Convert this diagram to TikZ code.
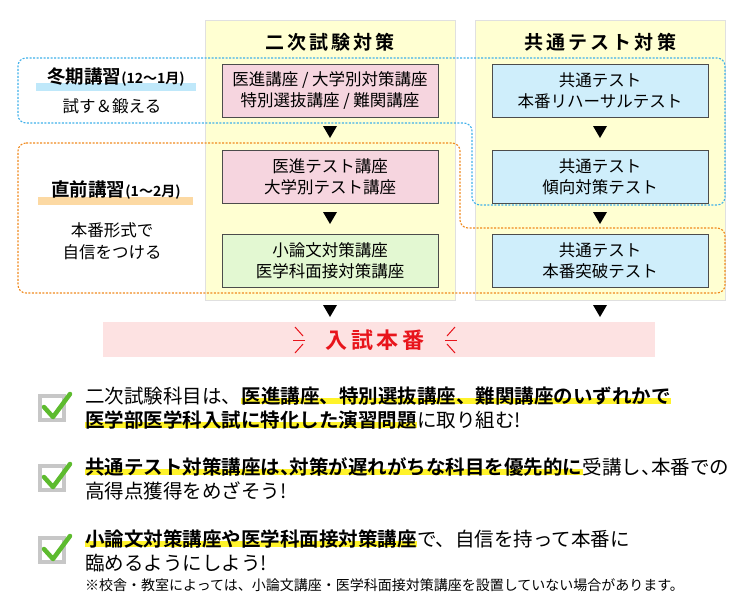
\documentclass[tikz,border=0pt]{standalone}
\usepackage{fontspec}
\setmainfont{Noto Sans CJK JP}[BoldFont={Noto Sans CJK JP Bold}]
\usetikzlibrary{positioning,backgrounds,calc}
\definecolor{colbg}{HTML}{FFFFD2}
\definecolor{pinkbox}{HTML}{F6D5DF}
\definecolor{greenbox}{HTML}{E3F8D2}
\definecolor{bluebox}{HTML}{CFEEFB}
\definecolor{bluedash}{HTML}{3FB0EA}
\definecolor{orangedash}{HTML}{F08A1E}
\definecolor{hlyellow}{HTML}{FFF32A}
\definecolor{hlblue}{HTML}{BFE8FA}
\definecolor{hlorange}{HTML}{FCD9A3}
\definecolor{redbar}{HTML}{FDE2E2}
\definecolor{redtxt}{HTML}{E8141B}
\definecolor{checkgreen}{HTML}{5DBB2E}
\tikzset{
  column/.style={fill=colbg, draw=black!12},
  course/.style={draw=black!70, thick, minimum width=216pt, minimum height=53pt, align=center, font=\fontsize{16.5}{21}\selectfont, inner sep=1pt},
  heading/.style={font=\bfseries\fontsize{19}{22}\selectfont},
  region/.style={line width=1.1pt, dash pattern=on 2pt off 1.5pt, rounded corners=8pt},
  body/.style={anchor=base west, inner sep=0pt, font=\fontsize{19.5}{23}\selectfont},
  hl/.style={body, font=\bfseries\fontsize{19.5}{23}\selectfont},
}
\newcommand{\downtri}[1]{\fill ($(#1)+(-7,-5)$) -- ($(#1)+(7,-5)$) -- ($(#1)+(0,7)$) -- cycle;}
\newcommand{\markhl}[1]{\begin{scope}[on background layer]\fill[hlyellow] ($(#1.base west)+(0,-5)$) rectangle ($(#1.base east)+(0,1)$);\end{scope}}
\newcommand{\checkbox}[1]{%
  \draw[black!22, line width=3.5pt] ($(#1)+(-38,-9)$) rectangle ($(#1)+(-14,15)$);
  \draw[checkgreen, line width=4.5pt, line cap=round, line join=round] ($(#1)+(-34,2)$) -- ($(#1)+(-25,12)$) -- ($(#1)+(-8,-11)$);}
\newcommand{\hcomma}{、\kern-0.5em}
\begin{document}
\begin{tikzpicture}[x=1pt, y=-1pt]
\useasboundingbox (0,0) rectangle (750,600);
% columns
\fill[column] (205,20) rectangle (455,300);
\fill[column] (475,20) rectangle (725,300);
\node[heading] (h1) at (330,42) {二\,次\,試\,験\,対\,策};
\node[heading] (h2) at (600,42) {共\,通\,テ\,ス\,ト\,対\,策};
% course boxes
\node[course, fill=pinkbox] (p1) at (330,90.5) {医進講座 / 大学別対策講座\\特別選抜講座 / 難関講座};
\node[course, fill=pinkbox] (p2) at (330,176.5) {医進テスト講座\\大学別テスト講座};
\node[course, fill=greenbox] (p3) at (330,260.5) {小論文対策講座\\医学科面接対策講座};
\node[course, fill=bluebox] (b1) at (600,90.5) {共通テスト\\本番リハーサルテスト};
\node[course, fill=bluebox] (b2) at (600,176.5) {共通テスト\\傾向対策テスト};
\node[course, fill=bluebox] (b3) at (600,260.5) {共通テスト\\本番突破テスト};
% regions
\draw[region, bluedash] (18,58) -- (725,58) -- (725,205) -- (472,205) -- (472,123) -- (18,123) -- cycle;
\draw[region, orangedash] (18,143) -- (460,143) -- (460,228) -- (725,228) -- (725,293) -- (18,293) -- cycle;
% arrows
\foreach \x in {330,600}{
  \foreach \y in {131,217,310}{
    \coordinate (t) at (\x,\y);
    \downtri{t}
  }
}
% left labels
\fill[hlblue] (36,83) rectangle (196,91);
\node[font=\bfseries\fontsize{18.5}{20}\selectfont] (w1) at (116,77) {冬期講習{\fontsize{14}{15}\selectfont(12〜1月)}};
\node[font=\fontsize{16.5}{18}\selectfont] (w2) at (112,106) {試す＆鍛える};
\fill[hlorange] (38,197) rectangle (193,205);
\node[font=\bfseries\fontsize{18.5}{20}\selectfont] (s1) at (116,190) {直前講習{\fontsize{14}{15}\selectfont(1〜2月)}};
\node[font=\fontsize{16.5}{22}\selectfont, align=center] (s2) at (112,241) {本番形式で\\自信をつける};
% final exam bar
\fill[redbar] (103,322) rectangle (655,357);
\node[font=\bfseries\fontsize{22}{24}\selectfont, text=redtxt] (exam) at (375,340) {入\,試\,本\,番};
\foreach \s in {-1,1}{
  \draw[redtxt, line width=1pt] ($(exam.center)+(\s*70,0)$) -- ($(exam.center)+(\s*82,0)$);
  \draw[redtxt, line width=1pt] ($(exam.center)+(\s*72,-4)$) -- ($(exam.center)+(\s*80,-13)$);
  \draw[redtxt, line width=1pt] ($(exam.center)+(\s*72,4)$) -- ($(exam.center)+(\s*80,13)$);
}
% check list
\coordinate (c1) at (78,405);
\coordinate (c2) at (78,475);
\coordinate (c3) at (78,547);
\checkbox{c1}
\checkbox{c2}
\checkbox{c3}
\node[body] (l1a) at (85,403) {二次試験科目は、};
\node[hl, right=0pt of l1a.base east, anchor=base west] (l1b) {医進講座、特別選抜講座、難関講座のいずれかで};
\node[hl] (l2a) at (85,427) {医学部医学科入試に特化した演習問題};
\node[body, right=0pt of l2a.base east, anchor=base west] (l2b) {に取り組む!};
\node[hl] (l3a) at (85,474) {共通テスト対策講座は\hcomma 対策が遅れがちな科目を優先的に};
\node[body, right=0pt of l3a.base east, anchor=base west] (l3b) {受講し\hcomma 本番での};
\node[body] (l4a) at (85,498) {高得点獲得をめざそう!};
\node[hl] (l5a) at (85,546) {小論文対策講座や医学科面接対策講座};
\node[body, right=0pt of l5a.base east, anchor=base west] (l5b) {で、自信を持って本番に};
\node[body] (l6a) at (85,570) {臨めるようにしよう!};
\node[body, font=\fontsize{14}{16}\selectfont] (note) at (85,590) {※校舎・教室によっては、小論文講座・医学科面接対策講座を設置していない場合があります。};
\markhl{l1b}
\markhl{l2a}
\markhl{l3a}
\markhl{l5a}
\end{tikzpicture}
\end{document}
